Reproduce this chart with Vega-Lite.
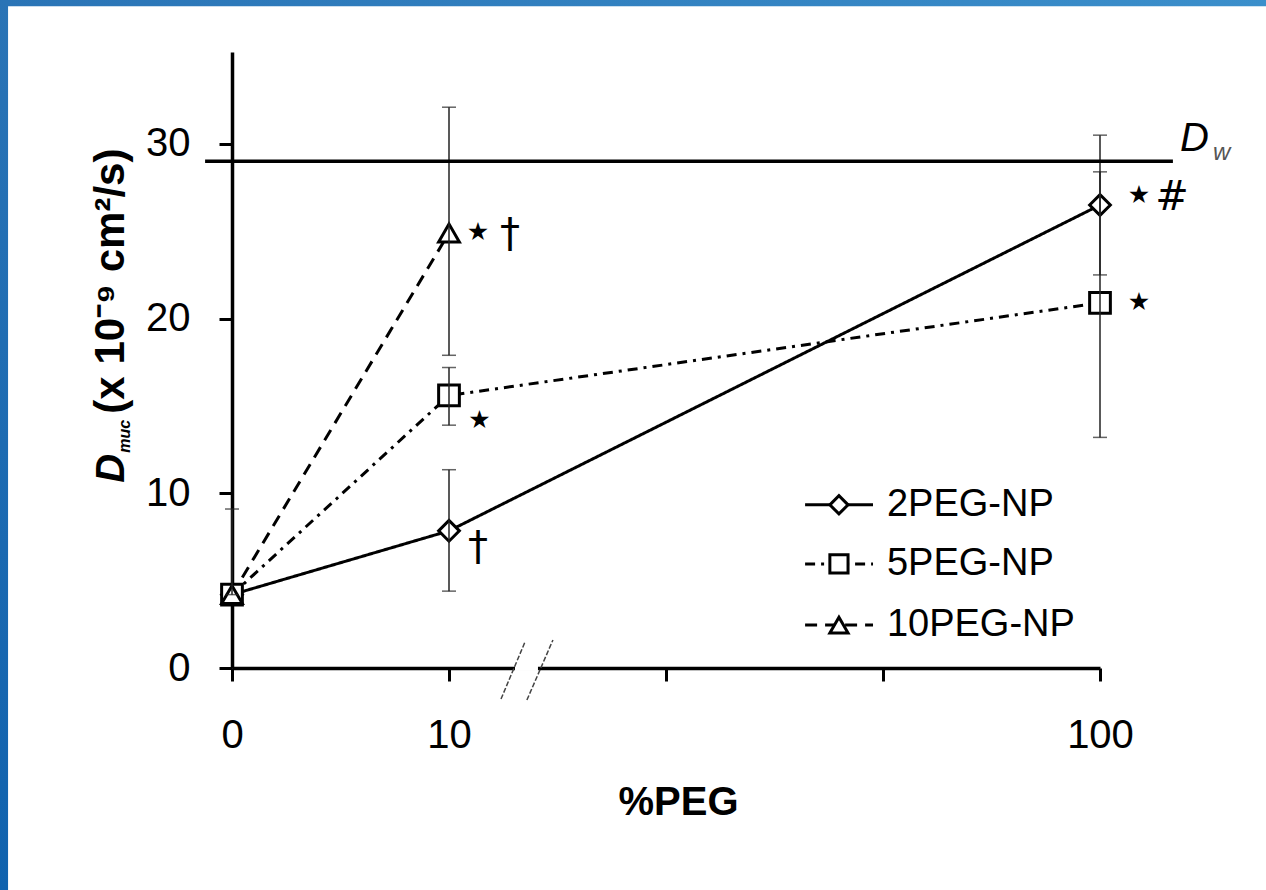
{
  "$schema": "https://vega.github.io/schema/vega-lite/v6.json",
  "width": 868,
  "height": 616,
  "autosize": {"type": "none"},
  "padding": {"left": 232, "top": 52, "right": 166, "bottom": 222},
  "background": "white",
  "config": {"view": {"stroke": null}, "font": "Liberation Sans"},
  "datasets": {
    "pts": [
      {"s": "2PEG-NP", "peg": 0, "pos": 0, "y": 4.2},
      {"s": "2PEG-NP", "peg": 10, "pos": 1, "y": 7.85},
      {"s": "2PEG-NP", "peg": 100, "pos": 4, "y": 26.5},
      {"s": "5PEG-NP", "peg": 0, "pos": 0, "y": 4.2},
      {"s": "5PEG-NP", "peg": 10, "pos": 1, "y": 15.6},
      {"s": "5PEG-NP", "peg": 100, "pos": 4, "y": 20.9},
      {"s": "10PEG-NP", "peg": 0, "pos": 0, "y": 4.2},
      {"s": "10PEG-NP", "peg": 10, "pos": 1, "y": 24.9}
    ],
    "err": [
      {"s": "2PEG-NP", "pos": 0, "lo": 4.2, "hi": 9.1},
      {"s": "2PEG-NP", "pos": 1, "lo": 4.4, "hi": 11.35},
      {"s": "2PEG-NP", "pos": 4, "lo": 22.5, "hi": 30.5},
      {"s": "5PEG-NP", "pos": 1, "lo": 13.9, "hi": 17.2},
      {"s": "5PEG-NP", "pos": 4, "lo": 13.2, "hi": 28.4},
      {"s": "10PEG-NP", "pos": 1, "lo": 17.9, "hi": 32.1}
    ],
    "ann": [
      {"t": "★", "pos": 1.134, "y": 24.93},
      {"t": "†", "pos": 1.281, "y": 24.76},
      {"t": "★", "pos": 1.14, "y": 14.2},
      {"t": "†", "pos": 1.134, "y": 6.88},
      {"t": "★", "pos": 4.18, "y": 27.05},
      {"t": "#", "pos": 4.332, "y": 26.93},
      {"t": "★", "pos": 4.18, "y": 20.97}
    ],
    "leg": [
      {"s": "2PEG-NP", "y": 9.34},
      {"s": "5PEG-NP", "y": 5.96},
      {"s": "10PEG-NP", "y": 2.46}
    ],
    "brk": [
      {"x": 1.2396, "y": -1.777, "x2": 1.3502, "y2": 1.49},
      {"x": 1.359, "y": -1.834, "x2": 1.479, "y2": 1.605}
    ],
    "one": [{"a": 1}]
  },
  "layer": [
    {
      "data": {"name": "one"},
      "mark": {"type": "rect", "color": {"gradient": "linear", "x1": 0, "y1": 0, "x2": 1, "y2": 0, "stops": [{"offset": 0, "color": "#2a74b6"}, {"offset": 1, "color": "#3b8fcb"}]}},
      "encoding": {
        "x": {"datum": -1.07, "type": "quantitative"},
        "x2": {"datum": 4.77},
        "y": {"datum": 38.3, "type": "quantitative"},
        "y2": {"datum": 37.88}
      }
    },
    {
      "data": {"name": "one"},
      "mark": {"type": "rect", "color": {"gradient": "linear", "x1": 0, "y1": 0, "x2": 0, "y2": 1, "stops": [{"offset": 0, "color": "#2a74b6"}, {"offset": 1, "color": "#1062ae"}]}},
      "encoding": {
        "x": {"datum": -1.07, "type": "quantitative"},
        "x2": {"datum": -1.032},
        "y": {"datum": 38.3, "type": "quantitative"},
        "y2": {"datum": -12.8}
      }
    },
    {
      "data": {"name": "pts"},
      "mark": {"type": "line", "color": "black", "strokeWidth": 3},
      "encoding": {
        "x": {
          "field": "pos", "type": "quantitative",
          "scale": {"domain": [0, 4], "nice": false, "zero": false},
          "axis": {
            "values": [0, 1, 2, 3, 4],
            "labelExpr": "datum.value==0?'0':datum.value==1?'10':datum.value==4?'100':''",
            "title": "%PEG", "titleFontSize": 40, "titleFontWeight": "bold", "titleColor": "black",
            "titleX": 446, "titleY": 146, "titleBaseline": "alphabetic", "titleAlign": "center",
            "labelFontSize": 40, "labelPadding": 34, "labelColor": "black", "labelFlush": false, "labelOverlap": false,
            "tickSize": 13, "tickWidth": 3, "tickColor": "black", "domainWidth": 3.5, "domainColor": "black", "grid": false
          }
        },
        "y": {
          "field": "y", "type": "quantitative",
          "scale": {"domain": [0, 35.26], "nice": false},
          "axis": {
            "values": [0, 10, 20, 30], "title": null,
            "labelFontSize": 40, "labelPadding": 29, "labelColor": "black",
            "tickSize": 13, "tickWidth": 3, "tickColor": "black", "domainWidth": 3.5, "domainColor": "black", "grid": false
          }
        },
        "detail": {"field": "s"},
        "strokeDash": {"field": "s", "type": "nominal", "scale": {"domain": ["2PEG-NP", "5PEG-NP", "10PEG-NP"], "range": [[1, 0], [10, 6, 3, 6], [12, 8]]}, "legend": null}
      }
    },
    {
      "data": {"name": "pts"},
      "mark": {"type": "point", "filled": true, "fill": "white", "stroke": "black", "strokeWidth": 3, "size": 430, "opacity": 1},
      "encoding": {
        "x": {"field": "pos", "type": "quantitative"},
        "y": {"field": "y", "type": "quantitative"},
        "shape": {"field": "s", "type": "nominal", "scale": {"domain": ["2PEG-NP", "5PEG-NP", "10PEG-NP"], "range": ["diamond", "square", "triangle-up"]}, "legend": null}
      }
    },
    {
      "data": {"name": "err"},
      "mark": {"type": "rule", "color": "#222", "strokeWidth": 1.5},
      "encoding": {
        "x": {"field": "pos", "type": "quantitative"},
        "y": {"field": "lo", "type": "quantitative"},
        "y2": {"field": "hi"}
      }
    },
    {
      "data": {"name": "err"},
      "mark": {"type": "tick", "orient": "horizontal", "color": "#222", "size": 14, "thickness": 1.5},
      "encoding": {
        "x": {"field": "pos", "type": "quantitative"},
        "y": {"field": "lo", "type": "quantitative"}
      }
    },
    {
      "data": {"name": "err"},
      "mark": {"type": "tick", "orient": "horizontal", "color": "#222", "size": 14, "thickness": 1.5},
      "encoding": {
        "x": {"field": "pos", "type": "quantitative"},
        "y": {"field": "hi", "type": "quantitative"}
      }
    },
    {
      "data": {"name": "one"},
      "mark": {"type": "rule", "color": "black", "strokeWidth": 3.5},
      "encoding": {
        "x": {"datum": -0.124, "type": "quantitative"},
        "x2": {"datum": 4.336},
        "y": {"datum": 29, "type": "quantitative"}
      }
    },
    {
      "data": {"name": "one"},
      "mark": {"type": "text", "text": "D", "fontStyle": "italic", "fontSize": 40, "align": "left", "baseline": "alphabetic", "color": "black"},
      "encoding": {"x": {"datum": 4.369, "type": "quantitative"}, "y": {"datum": 29.57, "type": "quantitative"}}
    },
    {
      "data": {"name": "one"},
      "mark": {"type": "text", "text": "w", "fontStyle": "italic", "fontSize": 24, "align": "left", "baseline": "alphabetic", "color": "#555"},
      "encoding": {"x": {"datum": 4.521, "type": "quantitative"}, "y": {"datum": 29.1, "type": "quantitative"}}
    },
    {
      "data": {"name": "ann"},
      "transform": [{"filter": "datum.t == '★'"}],
      "mark": {"type": "text", "align": "center", "baseline": "middle", "color": "black", "font": "DejaVu Sans", "fontSize": 25},
      "encoding": {
        "x": {"field": "pos", "type": "quantitative"},
        "y": {"field": "y", "type": "quantitative"},
        "text": {"field": "t"}
      }
    },
    {
      "data": {"name": "ann"},
      "transform": [{"filter": "datum.t == '†'"}],
      "mark": {"type": "text", "align": "center", "baseline": "middle", "color": "black", "font": "DejaVu Sans", "fontSize": 40},
      "encoding": {
        "x": {"field": "pos", "type": "quantitative"},
        "y": {"field": "y", "type": "quantitative"},
        "text": {"field": "t"}
      }
    },
    {
      "data": {"name": "ann"},
      "transform": [{"filter": "datum.t == '#'"}],
      "mark": {"type": "text", "align": "center", "baseline": "middle", "color": "black", "font": "DejaVu Sans", "fontSize": 40},
      "encoding": {
        "x": {"field": "pos", "type": "quantitative"},
        "y": {"field": "y", "type": "quantitative"},
        "text": {"field": "t"}
      }
    },
    {
      "data": {"name": "leg"},
      "mark": {"type": "rule", "color": "black", "strokeWidth": 3},
      "encoding": {
        "x": {"datum": 2.641, "type": "quantitative"},
        "x2": {"datum": 2.954},
        "y": {"field": "y", "type": "quantitative"},
        "strokeDash": {"field": "s", "type": "nominal", "legend": null}
      }
    },
    {
      "data": {"name": "leg"},
      "mark": {"type": "point", "filled": true, "fill": "white", "stroke": "black", "strokeWidth": 3, "size": 330, "opacity": 1},
      "encoding": {
        "x": {"datum": 2.797, "type": "quantitative"},
        "y": {"field": "y", "type": "quantitative"},
        "shape": {"field": "s", "type": "nominal", "legend": null}
      }
    },
    {
      "data": {"name": "leg"},
      "mark": {"type": "text", "align": "left", "baseline": "middle", "fontSize": 38, "color": "black"},
      "encoding": {
        "x": {"datum": 3.018, "type": "quantitative"},
        "y": {"field": "y", "type": "quantitative"},
        "text": {"field": "s"}
      }
    },
    {
      "data": {"name": "one"},
      "mark": {"type": "rect", "color": "white"},
      "encoding": {
        "x": {"datum": 1.304, "type": "quantitative"},
        "x2": {"datum": 1.41},
        "y": {"datum": -0.17, "type": "quantitative"},
        "y2": {"datum": 0.17}
      }
    },
    {
      "data": {"name": "brk"},
      "mark": {"type": "rule", "color": "#444", "strokeWidth": 1.5, "strokeDash": [5, 2]},
      "encoding": {
        "x": {"field": "x", "type": "quantitative"},
        "x2": {"field": "x2"},
        "y": {"field": "y", "type": "quantitative"},
        "y2": {"field": "y2"}
      }
    },
    {
      "data": {"name": "one"},
      "mark": {"type": "text", "text": "D", "fontStyle": "italic", "fontWeight": "bold", "fontSize": 40, "angle": 270, "align": "left", "baseline": "alphabetic", "color": "black"},
      "encoding": {"x": {"datum": -0.498, "type": "quantitative"}, "y": {"datum": 10.6, "type": "quantitative"}}
    },
    {
      "data": {"name": "one"},
      "mark": {"type": "text", "text": "muc", "fontStyle": "italic", "fontWeight": "bold", "fontSize": 16, "angle": 270, "align": "left", "baseline": "alphabetic", "color": "black"},
      "encoding": {"x": {"datum": -0.468, "type": "quantitative"}, "y": {"datum": 12.32, "type": "quantitative"}}
    },
    {
      "data": {"name": "one"},
      "mark": {"type": "text", "text": "(x 10⁻⁹ cm²/s)", "fontWeight": "bold", "fontSize": 42, "angle": 270, "align": "left", "baseline": "alphabetic", "color": "black"},
      "encoding": {"x": {"datum": -0.498, "type": "quantitative"}, "y": {"datum": 14.56, "type": "quantitative"}}
    }
  ]
}
